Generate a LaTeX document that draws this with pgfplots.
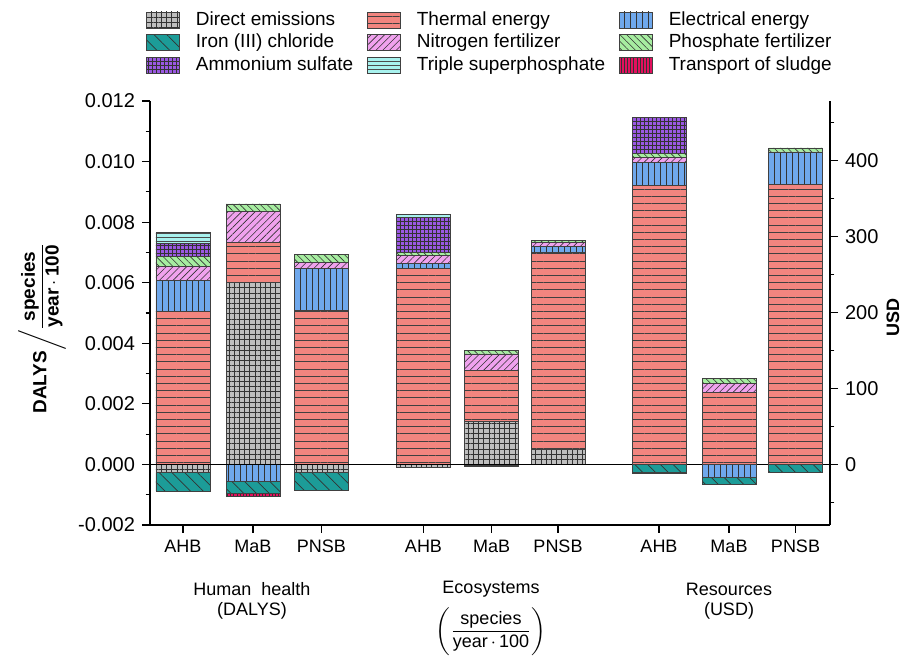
\documentclass[border=0pt]{standalone}
\usepackage{pgfplots}
\pgfplotsset{compat=1.18}
\usepackage{fontspec}
\setmainfont{Liberation Sans}
\usetikzlibrary{patterns.meta}

\definecolor{cDirect}{HTML}{BEBEBE}
\definecolor{cThermal}{HTML}{F2857F}
\definecolor{cElec}{HTML}{6FA8EC}
\definecolor{cIron}{HTML}{1C9C98}
\definecolor{cNitro}{HTML}{F0A2EE}
\definecolor{cPhos}{HTML}{A6EDA0}
\definecolor{cAmmon}{HTML}{9A58E2}
\definecolor{cTriple}{HTML}{A8F2EE}
\definecolor{cTrans}{HTML}{E2105E}

\tikzset{
  barline/.style={draw=black!75, line width=0.3pt},
  sDirect/.style={barline, fill=cDirect, postaction={pattern={Hatch[distance=2.6pt,line width=0.3pt]}, pattern color=black!80}},
  sThermal/.style={barline, fill=cThermal, postaction={pattern={Lines[angle=0,distance=3.6pt,line width=0.35pt]}, pattern color=black!75}},
  sElec/.style={barline, fill=cElec, postaction={pattern={Lines[angle=90,distance=3pt,line width=0.35pt]}, pattern color=black!80}},
  sIron/.style={barline, fill=cIron, postaction={pattern={Lines[angle=-45,distance=4.5pt,line width=0.35pt]}, pattern color=black!80}},
  sNitro/.style={barline, fill=cNitro, postaction={pattern={Lines[angle=45,distance=2.4pt,line width=0.3pt]}, pattern color=black!80}},
  sPhos/.style={barline, fill=cPhos, postaction={pattern={Lines[angle=-45,distance=2.4pt,line width=0.3pt]}, pattern color=black!80}},
  sAmmon/.style={barline, fill=cAmmon, postaction={pattern={Hatch[distance=2pt,line width=0.3pt]}, pattern color=black!80}},
  sTriple/.style={barline, fill=cTriple, postaction={pattern={Lines[angle=0,distance=2pt,line width=0.3pt]}, pattern color=black!70}},
  sTrans/.style={barline, fill=cTrans, postaction={pattern={Lines[angle=90,distance=1.6pt,line width=0.3pt]}, pattern color=black!80}},
}

\pgfplotsset{commonax/.style={
  scale only axis, width=340pt, height=212pt,
  at={(0pt,0pt)}, anchor=south west,
  xmin=150, xmax=830,
  ybar stacked, bar width=54,
  tick align=outside, major tick length=4pt, minor tick length=2.2pt,
  tick style={black, line width=0.6pt},
  axis line style={line width=0.7pt},
}}

\begin{document}
\begin{tikzpicture}
\path[use as bounding box] (-75pt,-66pt) rectangle (378pt,262.5pt);

% ---------- Human health and Ecosystems (left axis) ----------
\begin{axis}[commonax,
  ymin=-0.002, ymax=0.012,
  axis x line*=bottom, axis y line*=left,
  xtick={183,253,321.5,423.5,491.7,558,659,729,795.5},
  xticklabels={AHB,MaB,PNSB,AHB,MaB,PNSB,AHB,MaB,PNSB},
  x tick label style={font=\fontsize{9}{10}\selectfont},
  ytick={-0.002,0,0.002,0.004,0.006,0.008,0.010,0.012},
  minor ytick={-0.001,0.001,0.003,0.005,0.007,0.009,0.011},
  scaled y ticks=false,
  yticklabel style={/pgf/number format/fixed, /pgf/number format/fixed zerofill,
    /pgf/number format/precision=3, /pgf/number format/assume math mode=true,
    font=\fontsize{10}{12}\selectfont},
  legend columns=3,
  legend cell align=left,
  legend image code/.code={\draw[#1] (0pt,-4pt) rectangle (16.5pt,4pt);},
  legend style={at={(-0.006,1.212)}, anchor=north west, draw=none, fill=none,
    font=\fontsize{9.5}{11}\selectfont, inner sep=0pt, row sep=2.9pt,
    nodes={inner xsep=2pt, inner ysep=0pt},
    /tikz/every odd column/.append style={column sep=6pt},
    /tikz/every even column/.append style={column sep=5pt}},
]
% negative parts (stacked downward from zero)
\addplot[sDirect, forget plot] coordinates {(183,-0.00027) (253,0) (321.5,-0.00025) (423.5,-0.00008) (491.7,0) (558,0)};
\addplot[sElec, forget plot] coordinates {(183,0) (253,-0.00055) (321.5,0) (423.5,0) (491.7,-0.00003) (558,0)};
\addplot[sIron, forget plot] coordinates {(183,-0.00061) (253,-0.00041) (321.5,-0.00061) (423.5,0) (491.7,-0.00003) (558,0)};
\addplot[sTrans, forget plot] coordinates {(183,0) (253,-0.00009) (321.5,0) (423.5,0) (491.7,0) (558,0)};
% positive parts
\addplot[sDirect, forget plot] coordinates {(183,0) (253,0.00602) (321.5,0) (423.5,0) (491.7,0.00141) (558,0.00050)};
\addplot[sThermal, forget plot] coordinates {(183,0.00506) (253,0.00130) (321.5,0.00508) (423.5,0.00647) (491.7,0.00169) (558,0.00649)};
\addplot[sElec, forget plot] coordinates {(183,0.00101) (253,0) (321.5,0.00138) (423.5,0.00017) (491.7,0) (558,0.00022)};
\addplot[sNitro, forget plot] coordinates {(183,0.00047) (253,0.00103) (321.5,0.00022) (423.5,0.00027) (491.7,0.00055) (558,0.00011)};
\addplot[sPhos, forget plot] coordinates {(183,0.00033) (253,0.00025) (321.5,0.00025) (423.5,0.00008) (491.7,0.00011) (558,0.00009)};
\addplot[sAmmon, forget plot] coordinates {(183,0.00044) (253,0) (321.5,0) (423.5,0.00116) (491.7,0) (558,0)};
\addplot[sTriple, forget plot] coordinates {(183,0.00035) (253,0) (321.5,0) (423.5,0.00011) (491.7,0) (558,0)};

\addlegendimage{sDirect}\addlegendentry{Direct emissions}
\addlegendimage{sThermal}\addlegendentry{Thermal energy}
\addlegendimage{sElec}\addlegendentry{Electrical energy}
\addlegendimage{sIron}\addlegendentry{Iron (III) chloride}
\addlegendimage{sNitro}\addlegendentry{Nitrogen fertilizer}
\addlegendimage{sPhos}\addlegendentry{Phosphate fertilizer}
\addlegendimage{sAmmon}\addlegendentry{Ammonium sulfate}
\addlegendimage{sTriple}\addlegendentry{Triple superphosphate}
\addlegendimage{sTrans}\addlegendentry{Transport of sludge}
\end{axis}

% ---------- Resources (right axis, USD) ----------
\begin{axis}[commonax,
  ymin=-79.8, ymax=478.8,
  axis x line=none, axis y line*=right,
  ytick={0,100,200,300,400},
  minor ytick={-50,50,150,250,350,450},
  yticklabel style={/pgf/number format/assume math mode=true, font=\fontsize{10}{12}\selectfont},
]
\addplot[sElec, forget plot] coordinates {(659,0) (729,-16.9) (795.5,0)};
\addplot[sIron, forget plot] coordinates {(659,-10.3) (729,-8.8) (795.5,-10.3)};
\addplot[sTrans, forget plot] coordinates {(659,-1.5) (729,-1.0) (795.5,0)};
\addplot[sThermal, forget plot] coordinates {(659,367.8) (729,95.0) (795.5,369.0)};
\addplot[sElec, forget plot] coordinates {(659,29.9) (729,0) (795.5,41.7)};
\addplot[sNitro, forget plot] coordinates {(659,6.6) (729,12.2) (795.5,1.0)};
\addplot[sPhos, forget plot] coordinates {(659,5.7) (729,6.2) (795.5,5.3)};
\addplot[sAmmon, forget plot] coordinates {(659,47.0) (729,0) (795.5,0)};
\draw[black, line width=0.6pt] (axis cs:150,0) -- (axis cs:830,0);
\end{axis}

% axis titles and group labels
\node[rotate=90, font=\fontsize{9.5}{11}\selectfont\bfseries] at (-54pt,99pt)
  {DALYS$\left/\displaystyle\frac{\mbox{\bfseries species}}{\mbox{\bfseries year\,$\cdot$\,100}}\right.$};
\node[rotate=90, font=\fontsize{9}{11}\selectfont\bfseries] at (371.5pt,103.5pt) {USD};

\begin{scope}[every node/.style={font=\fontsize{9}{10}\selectfont, inner sep=0.5pt}]
\node at (51pt,-32pt) {Human\ \ health};
\node at (51pt,-43pt) {(DALYS)};
\node at (170.5pt,-32pt) {Ecosystems};
\node at (170.5pt,-53pt) {$\biggl(\displaystyle\frac{\mbox{species}}{\mbox{year\,$\cdot$\,100}}\biggr)$};
\node at (289.5pt,-32pt) {Resources};
\node at (289.5pt,-43pt) {(USD)};
\end{scope}
\end{tikzpicture}
\end{document}
